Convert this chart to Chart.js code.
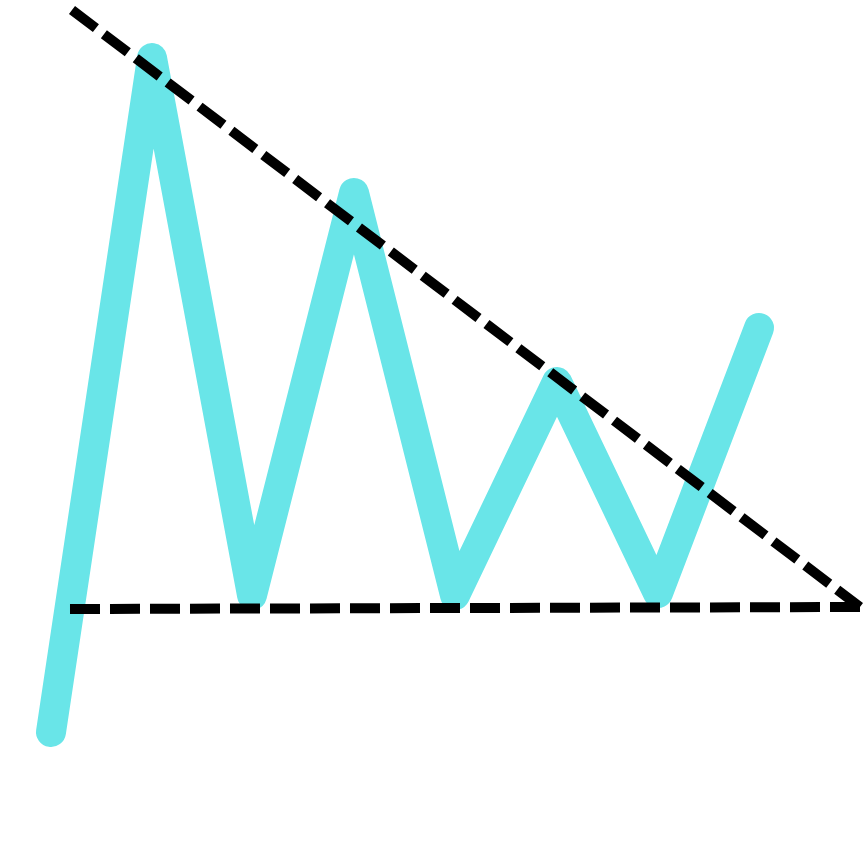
<!DOCTYPE html>
<html>
<head>
<meta charset="utf-8">
<script src="https://cdn.jsdelivr.net/npm/chart.js@4"></script>
<style>
  html, body { margin: 0; padding: 0; background: #fff; }
  #c { display: block; }
</style>
</head>
<body>
<canvas id="c" width="863" height="868"></canvas>
<script>
// zigzag price line (x, height from bottom)
const priceX = [51, 152, 252, 354, 455, 557, 658, 759];
const priceY = [136, 810, 273, 675, 273, 486, 275, 540];

// resistance (descending) and support (flat) lines
const resistX = [72, 860];
const resistY = [858, 261];
const supportX = [70, 860];
const supportY = [259, 261];

const toPts = (xs, ys) => xs.map((x, i) => ({ x: x, y: ys[i] }));

new Chart(document.getElementById('c'), {
  type: 'line',
  data: {
    datasets: [
      {
        data: toPts(resistX, resistY),
        borderColor: '#000',
        borderWidth: 10,
        borderDash: [30, 10],
        borderCapStyle: 'butt',
        pointRadius: 0,
        clip: false
      },
      {
        data: toPts(supportX, supportY),
        borderColor: '#000',
        borderWidth: 10,
        borderDash: [30, 10],
        borderCapStyle: 'butt',
        pointRadius: 0,
        clip: false
      },
      {
        data: toPts(priceX, priceY),
        borderColor: '#69e5e8',
        borderWidth: 30,
        borderCapStyle: 'round',
        borderJoinStyle: 'round',
        tension: 0,
        pointRadius: 0,
        clip: false
      }
    ]
  },
  options: {
    responsive: false,
    animation: false,
    layout: { padding: 0 },
    plugins: { legend: { display: false }, tooltip: { enabled: false } },
    scales: {
      x: { type: 'linear', min: 0, max: 863, display: false },
      y: { type: 'linear', min: 0, max: 868, display: false }
    }
  }
});
</script>
</body>
</html>
